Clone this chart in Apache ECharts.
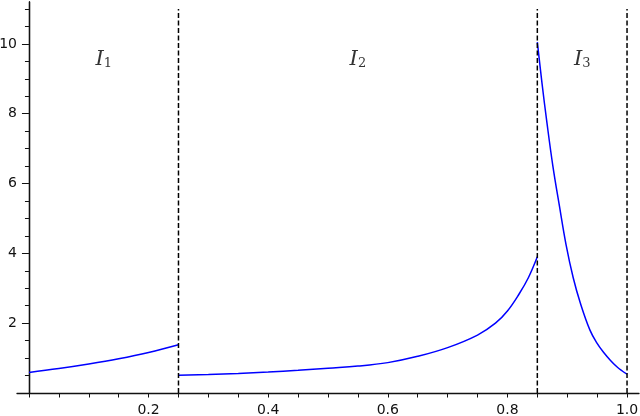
<!DOCTYPE html>
<html>
<head>
<meta charset="utf-8">
<script src="https://cdn.jsdelivr.net/npm/echarts@6/dist/echarts.min.js"></script>
<style>
  html, body { margin: 0; padding: 0; background: #fff; }
  #main { width: 640px; height: 416px; }
</style>
</head>
<body>
<div id="main"></div>
<script>
// piece on I1
const x1 = [0, 0.05, 0.10, 0.15, 0.20, 0.25];
const y1 = [0.59, 0.70, 0.83, 0.98, 1.16, 1.38];
// piece on I2
const x2 = [0.25, 0.30, 0.35, 0.40, 0.45, 0.50, 0.55, 0.60, 0.65, 0.70, 0.75, 0.78, 0.80, 0.82, 0.835, 0.85];
const y2 = [0.51, 0.53, 0.56, 0.60, 0.65, 0.71, 0.77, 0.87, 1.05, 1.30, 1.66, 2.00, 2.35, 2.85, 3.30, 3.90];
// piece on I3
const x3 = [0.85, 0.858, 0.866, 0.876, 0.887, 0.898, 0.91, 0.922, 0.938, 0.95, 0.961, 0.972, 0.983, 0.992, 1.0];
const y3 = [10.05, 8.85, 7.75, 6.50, 5.35, 4.25, 3.30, 2.57, 1.80, 1.42, 1.16, 0.94, 0.75, 0.63, 0.54];

// dashed interval borders
const dividers = [0.25, 0.85, 1.0];
const dividerTop = 11;

// interval names
const intervalX = [0.125, 0.55, 0.925];
const intervalY = 9.55;
const intervalSub = ['1', '2', '3'];

// ticks
const xLabels = [0.2, 0.4, 0.6, 0.8, 1.0];
const xTicks = [0, 0.05, 0.1, 0.15, 0.2, 0.25, 0.3, 0.35, 0.4, 0.45, 0.5, 0.55, 0.6, 0.65, 0.7, 0.75, 0.8, 0.85, 0.9, 0.95, 1.0];
const yLabels = [2, 4, 6, 8, 10];
const yMinor = [0.5, 1, 1.5, 2.5, 3, 3.5, 4.5, 5, 5.5, 6.5, 7, 7.5, 8.5, 9, 9.5, 10.5, 11];

const xMin = -0.02, xMax = 1.02;
const gridLeft = 17, gridRight = 1, chartW = 640;
// move the y axes from the grid edge to x = 0
const yOffset = -(0 - xMin) / (xMax - xMin) * (chartW - gridLeft - gridRight);

const chart = echarts.init(document.getElementById('main'));

const zip = (xs, ys) => xs.map((x, i) => [x, ys[i]]);

const curve = (xs, ys) => ({
  type: 'line',
  data: zip(xs, ys),
  symbol: 'none',
  smooth: 0.4,
  lineStyle: { color: '#0000ff', width: 1.5 },
  silent: true
});

const lineStyle = { color: '#111', width: 1.3 };

let series = [curve(x1, y1), curve(x2, y2), curve(x3, y3)];
dividers.forEach((d) => {
  series.push({
    type: 'line',
    data: [[d, 0], [d, dividerTop]],
    symbol: 'none',
    silent: true,
    lineStyle: { color: '#000', width: 1.5, type: [5, 2.5] }
  });
});
series.push({
  type: 'scatter',
  symbolSize: 0,
  silent: true,
  data: intervalX.map((x, i) => [x, intervalY, intervalSub[i]]),
  label: {
    show: true,
    position: 'inside',
    formatter: (p) => '{i|I}{s|' + p.value[2] + '}',
    rich: {
      i: { fontFamily: 'DejaVu Serif', fontStyle: 'italic', fontSize: 21, color: '#000' },
      s: { fontFamily: 'DejaVu Serif', fontSize: 13, color: '#000', padding: [8, 0, 0, 0] }
    }
  }
});

const option = {
  backgroundColor: '#ffffff',
  animation: false,
  grid: { left: gridLeft, right: gridRight, top: 2, bottom: 23, containLabel: false, outerBoundsMode: 'none' },
  xAxis: {
    type: 'value',
    min: xMin,
    max: xMax,
    axisLine: { show: true, onZero: true, lineStyle: lineStyle },
    splitLine: { show: false },
    axisTick: { show: true, customValues: xTicks, length: 4.5, lineStyle: { color: '#111' } },
    axisLabel: {
      customValues: xLabels,
      margin: 10,
      fontFamily: 'DejaVu Sans',
      fontSize: 14,
      color: '#111',
      formatter: (v) => v.toFixed(1)
    }
  },
  yAxis: [
    {
      type: 'value',
      position: 'left',
      offset: yOffset,
      min: 0,
      max: 11.2,
      axisLine: { show: true, onZero: false, lineStyle: lineStyle },
      splitLine: { show: false },
      axisTick: { show: true, customValues: yLabels, length: 7, lineStyle: { color: '#111' } },
      axisLabel: {
        customValues: yLabels,
        margin: 12,
        fontFamily: 'DejaVu Sans',
        fontSize: 14,
        color: '#111'
      }
    },
    {
      type: 'value',
      position: 'left',
      offset: yOffset,
      min: 0,
      max: 11.2,
      axisLine: { show: true, onZero: false, lineStyle: lineStyle },
      splitLine: { show: false },
      axisTick: { show: true, customValues: yMinor, length: 4, lineStyle: { color: '#111' } },
      axisLabel: { show: false }
    }
  ],
  series: series
};

chart.setOption(option);
</script>
</body>
</html>
